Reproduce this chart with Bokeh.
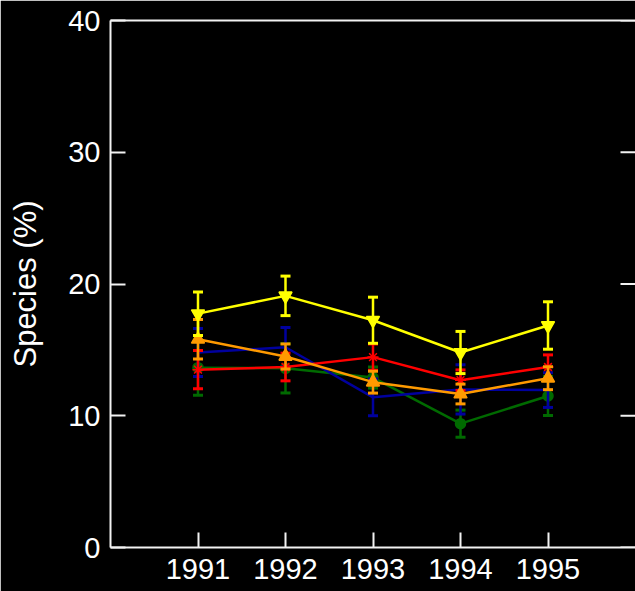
from bokeh.plotting import figure
from bokeh.models import LinearAxis, FixedTicker, Range1d
from bokeh.embed import file_html
from bokeh.resources import INLINE

# Yearly species share (%) with standard errors, one list per series
years = [1991, 1992, 1993, 1994, 1995]

green_vals = [13.65, 13.6, 12.9, 9.4, 11.5]
green_err = [2.1, 1.87, 0.8, 1.03, 1.48]

blue_vals = [14.8, 15.2, 11.4, 12.0, 11.95]
blue_err = [1.83, 1.5, 1.4, 1.87, 1.32]

red_vals = [13.5, 13.7, 14.45, 12.7, 13.7]
red_err = [1.45, 1.05, 1.0, 0.78, 0.92]

orange_vals = [15.8, 14.5, 12.55, 11.65, 12.85]
orange_err = [1.5, 0.95, 0.83, 0.75, 0.87]

yellow_vals = [17.75, 19.1, 17.25, 14.8, 16.85]
yellow_err = [1.65, 1.5, 1.75, 1.6, 1.8]

y_ticks = [0, 10, 20, 30, 40]

FONT = "Liberation Sans"
AXIS_COLOR = "#f2f2f2"

p = figure(width=635, height=591, output_backend="svg", toolbar_location=None,
           x_range=Range1d(1990, 1996), y_range=Range1d(0, 40),
           background_fill_color="black", border_fill_color="black",
           outline_line_color=None,
           min_border_left=110, min_border_right=0, min_border_top=20,
           min_border_bottom=44)
p.grid.visible = False

# left axis
ya = p.yaxis[0]
ya.ticker = FixedTicker(ticks=y_ticks)
ya.axis_label = "Species (%)"
ya.axis_label_text_font = FONT
ya.axis_label_text_font_style = "normal"
ya.axis_label_text_font_size = "31px"
ya.axis_label_text_color = "white"
ya.axis_label_standoff = 22

# bottom axis
xa = p.xaxis[0]
xa.ticker = FixedTicker(ticks=years)

for ax in (ya, xa):
    ax.axis_line_color = AXIS_COLOR
    ax.axis_line_width = 2
    ax.major_tick_line_color = AXIS_COLOR
    ax.major_tick_line_width = 2
    ax.major_tick_in = 15
    ax.major_tick_out = 0
    ax.minor_tick_line_color = None
    ax.major_label_text_font = FONT
    ax.major_label_text_font_size = "29px"
    ax.major_label_text_color = "white"
ya.major_label_standoff = 10
xa.major_label_standoff = 11

# top frame edge: a bare axis line
ta = LinearAxis(ticker=FixedTicker(ticks=[]))
ta.axis_line_color = AXIS_COLOR
ta.axis_line_width = 2
ta.major_tick_line_color = None
ta.minor_tick_line_color = None
p.add_layout(ta, "above")

# inward tick marks along the right frame edge
p.ray(x=[1996] * len(y_ticks), y=y_ticks, length=15, length_units="screen",
      angle=3.14159265, line_color=AXIS_COLOR, line_width=2)


def series(vals, errs, color, marker, size):
    lo = [v - e for v, e in zip(vals, errs)]
    hi = [v + e for v, e in zip(vals, errs)]
    p.segment(x0=years, y0=lo, x1=years, y1=hi, line_color=color, line_width=2.5)
    p.scatter(x=years + years, y=lo + hi, marker="dash", size=10,
              line_color=color, line_width=3)
    p.line(x=years, y=vals, line_color=color, line_width=2.5)
    if marker is not None:
        p.scatter(x=years, y=vals, marker=marker, size=size,
                  fill_color=color, line_color=color, line_width=1.5)


series(green_vals, green_err, "#006a00", "circle", 10)
series(blue_vals, blue_err, "#00009e", None, 0)
series(red_vals, red_err, "#ff0000", "asterisk", 11)
series(orange_vals, orange_err, "#ff9a00", "triangle", 13)
series(yellow_vals, yellow_err, "#ffff00", "inverted_triangle", 13)

open("out.html", "w").write(file_html(p, INLINE))
